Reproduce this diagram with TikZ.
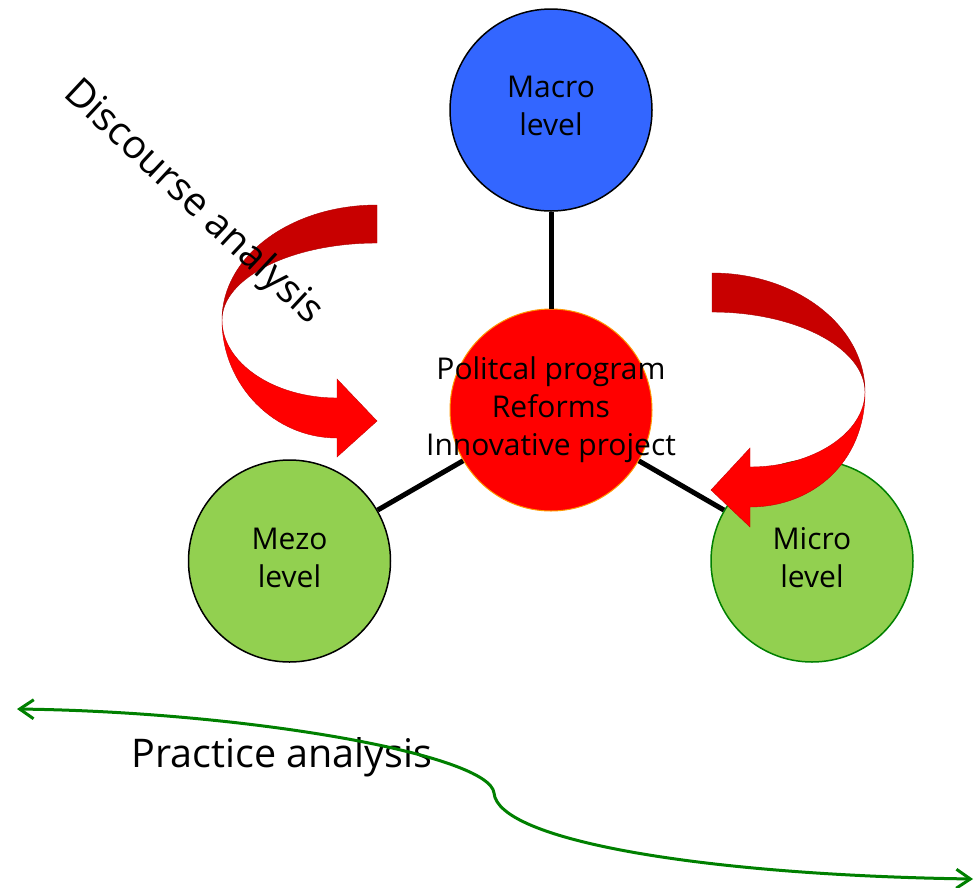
\documentclass[tikz,border=0pt]{standalone}
\usepackage{fontspec}
\setmainfont{Open Sans}
\usetikzlibrary{arrows.meta}
\definecolor{macroblue}{HTML}{3366FF}
\definecolor{levelgreen}{HTML}{92D050}
\definecolor{darkred}{HTML}{C80000}
\definecolor{brightred}{HTML}{FF0000}
\definecolor{flowgreen}{HTML}{008000}
\definecolor{ringorange}{HTML}{FF9900}
\begin{document}
\begin{tikzpicture}[x=1pt,y=-1pt,
  level/.style={circle, minimum size=202pt, inner sep=0pt, line width=1.5pt},
  leveltext/.style={align=center, inner sep=0pt, font=\fontsize{30}{38}\selectfont},
  link/.style={line width=5pt},
  ribbonback/.style={fill=darkred, draw=darkred!85!black, line width=0.4pt},
  ribbonfront/.style={fill=brightred, draw=darkred, line width=0.4pt},
  bigtext/.style={font=\fontsize{39.5}{46}\selectfont, inner sep=0pt},
  flow/.style={draw=flowgreen, line width=3pt,
    {Straight Barb[length=14pt,width=19pt]}-{Straight Barb[length=14pt,width=19pt]}}]
\useasboundingbox (0,0) rectangle (980,887);

% circles
\node[level, fill=macroblue, draw=black] (macro) at (551,110) {};
\node[level, fill=brightred, draw=ringorange, line width=1pt] (core) at (551,410) {};
\node[level, fill=levelgreen, draw=black] (mezo) at (289.5,561) {};
\node[level, fill=levelgreen, draw=flowgreen] (micro) at (812,561) {};

% connectors
\draw[link] (macro) -- (core);
\draw[link] (mezo) -- (core);
\draw[link] (core) -- (micro);

% circle texts
\node[leveltext] (macroT) at (551,106) {Macro\\level};
\node[leveltext] (coreT) at (551,410) {Politcal program\\Reforms\\Innovative project};
\node[leveltext] (mezoT) at (289.5,558) {Mezo\\level};
\node[leveltext] (microT) at (812,558) {Micro\\level};

% left curved ribbon arrow
\filldraw[ribbonback] (377,205) .. controls (291,205) and (222,256) .. (222,320)
  .. controls (222,278) and (291,243) .. (377,243) -- cycle;
\filldraw[ribbonfront] (222,320) .. controls (222,385) and (274,438) .. (337,438)
  -- (337,457) -- (377,421) -- (337,379) -- (337,398)
  .. controls (274,398) and (222,363) .. (222,320) -- cycle;

% right curved ribbon arrow
\filldraw[ribbonback] (712,273) .. controls (796,273) and (865,326) .. (865,392)
  .. controls (865,348) and (796,312) .. (712,312) -- cycle;
\filldraw[ribbonfront] (865,392) .. controls (865,462) and (813,507) .. (750,507)
  -- (750,527) -- (711,490) -- (750,448) -- (750,467)
  .. controls (813,467) and (865,433) .. (865,392) -- cycle;

% labels
\node[bigtext, rotate=-43] (disc) at (193,203) {Discourse analysis};
\node[bigtext] (prac) at (282,757) {Practice analysis};

% bottom flow
\coordinate (flowL) at (17,709);
\coordinate (flowM) at (494,793);
\coordinate (flowR) at (973,879);
\draw[flow] (flowL) .. controls (250,712) and (490,755) .. (flowM)
  .. controls (498,840) and (700,875) .. (flowR);
\end{tikzpicture}
\end{document}
